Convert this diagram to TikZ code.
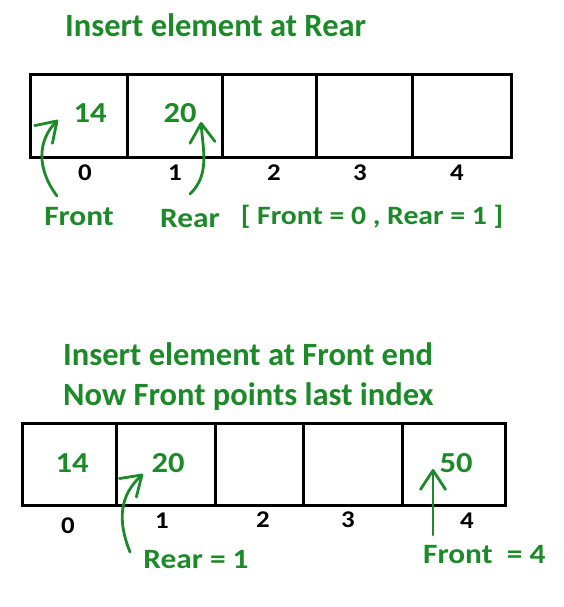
\documentclass[tikz,border=0pt]{standalone}
\usepackage{fontspec}
\setmainfont{Carlito}
\newfontfamily\widefont{Carlito}[FakeStretch=1.12]
\usetikzlibrary{arrows.meta}
\definecolor{gfg}{RGB}{28,138,40}
\tikzset{
  cell/.style={draw=black, line width=3pt, inner sep=0pt, minimum height=82pt},
  val/.style={text=gfg, font=\widefont\fontsize{29}{34}\selectfont\bfseries, anchor=base, inner sep=0pt},
  idx/.style={text=black, font=\widefont\fontsize{24}{28}\selectfont\bfseries, anchor=base, inner sep=0pt},
  ttl/.style={text=gfg, font=\fontsize{32.5}{37}\selectfont\bfseries, anchor=base west, inner sep=0pt},
  lbl/.style={text=gfg, font=\widefont\fontsize{28}{32}\selectfont\bfseries, anchor=base, inner sep=0pt},
  ptr/.style={draw=gfg, line width=2.8pt, line cap=round, -{Straight Barb[length=19pt,width=25pt,line width=2.8pt, round]}}
}
\begin{document}
\begin{tikzpicture}[x=1pt,y=-1pt]
\useasboundingbox (0,0) rectangle (564,607);
% ---- top ----
\node[ttl] (title1) at (65,37) {Insert element at Rear};
\node[cell, minimum width=97pt] (a0) at (78.5,116) {};
\node[cell, minimum width=95pt] (a1) at (174.5,116) {};
\node[cell, minimum width=94pt] (a2) at (269,116) {};
\node[cell, minimum width=96pt] (a3) at (364,116) {};
\node[cell, minimum width=99pt] (a4) at (461.5,116) {};
\node[val] (v14) at (90,122) {14};
\node[val] (v20) at (180,122) {20};
\node[idx] (i0) at (85,180) {0};
\node[idx] (i1) at (175,180) {1};
\node[idx] (i2) at (274,180) {2};
\node[idx] (i3) at (360,180) {3};
\node[idx] (i4) at (457,180) {4};
\node[lbl] (front1) at (79,225) {Front};
\node[lbl] (rear1) at (190,227) {Rear};
\node[lbl, font=\widefont\fontsize{26.5}{30}\selectfont\bfseries] (state1) at (372,224) {[ Front = 0 , Rear = 1 ]};
\coordinate (ft1) at (57,196);
\coordinate (fh1) at (58,120);
\coordinate (rt1) at (190,194);
\coordinate (rh1) at (201,122);
\draw[ptr] (ft1) .. controls (36,168) and (38,140) .. (fh1);
\draw[ptr] (rt1) .. controls (210,175) and (203,150) .. (rh1);
% ---- bottom ----
\node[ttl] (title2) at (63,365) {Insert element at Front end};
\node[ttl] (title3) at (63,405) {Now Front points last index};
\node[cell, minimum width=94pt] (b0) at (69,464) {};
\node[cell, minimum width=99pt] (b1) at (165.5,464) {};
\node[cell, minimum width=88pt] (b2) at (259,464) {};
\node[cell, minimum width=99pt] (b3) at (352.5,464) {};
\node[cell, minimum width=103pt] (b4) at (453.5,464) {};
\node[val] (w14) at (72,472) {14};
\node[val] (w20) at (168,472) {20};
\node[val] (w50) at (456,472) {50};
\node[idx] (j0) at (68,533) {0};
\node[idx] (j1) at (162,528) {1};
\node[idx] (j2) at (263,527) {2};
\node[idx] (j3) at (348,527) {3};
\node[idx] (j4) at (467,528) {4};
\node[lbl] (rear2) at (196,568) {Rear = 1};
\node[lbl, anchor=base west] (front2) at (423,563) {Front \ = 4};
\coordinate (rt2) at (130,552);
\coordinate (rh2) at (143,474);
\coordinate (ft2) at (433,535);
\coordinate (fh2) at (433,469);
\draw[ptr] (rt2) .. controls (117,520) and (120,495) .. (rh2);
\draw[ptr] (ft2) -- (fh2);
\end{tikzpicture}
\end{document}
